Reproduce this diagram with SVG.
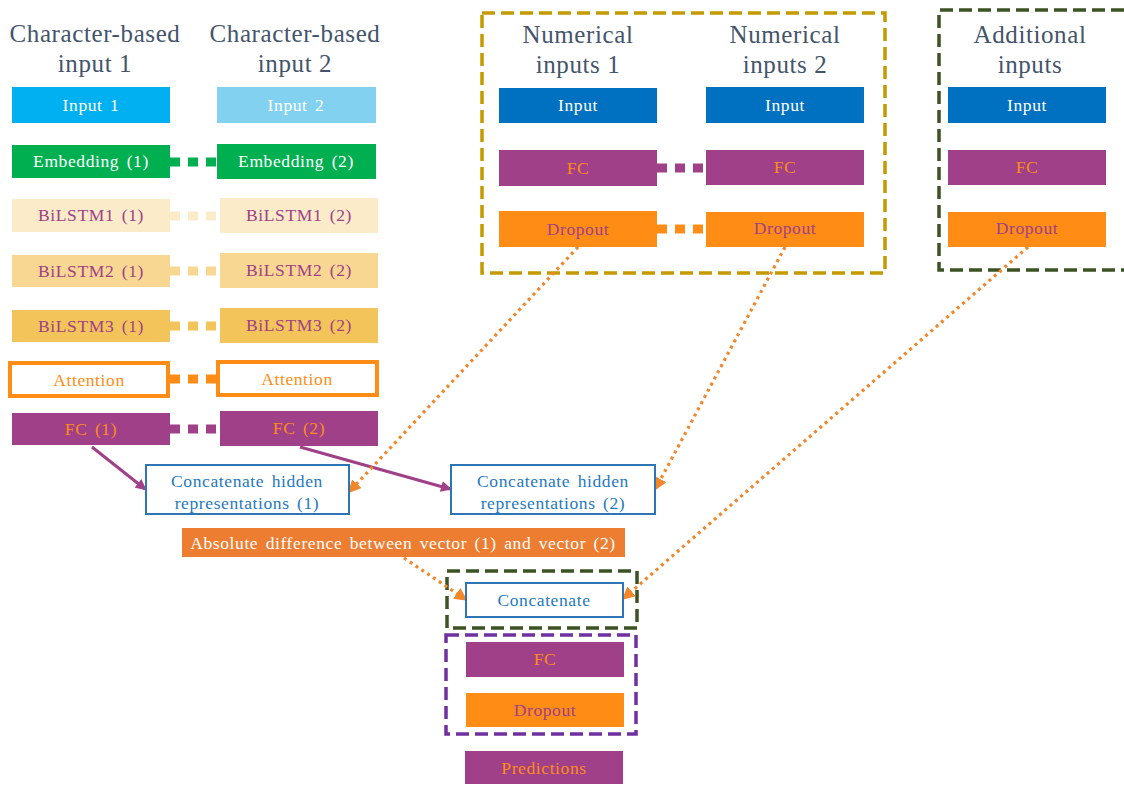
<svg xmlns="http://www.w3.org/2000/svg" width="1124" height="785" viewBox="0 0 1124 785" font-family="Liberation Serif, DejaVu Serif, serif">
<defs>
<style>
text{font-family:"Liberation Serif","DejaVu Serif",serif;text-anchor:middle}
.hd{font-size:25px;fill:#44546A;letter-spacing:0.6px}
.t{font-size:17.5px;letter-spacing:0.6px;word-spacing:2.5px}
.w{fill:#FFFFFF}
.p{fill:#A04088}
.o{fill:#FF8C14}
.b{fill:#1F78C1}
.dot{stroke-width:9;stroke-dasharray:10 8;fill:none}
.grp{fill:none;stroke-width:3.5;stroke-dasharray:13 6}
</style>
<marker id="ap" markerWidth="11" markerHeight="11" refX="9" refY="5.5" orient="auto" markerUnits="userSpaceOnUse" viewBox="0 0 11 11"><path d="M0,0 L11,5.5 L0,11 Z" fill="#A04088"/></marker>
<marker id="ao" markerWidth="13" markerHeight="13" refX="10" refY="6.5" orient="auto" markerUnits="userSpaceOnUse" viewBox="0 0 13 13"><path d="M0,0 L13,6.5 L0,13 Z" fill="#F4862A"/></marker>
</defs>
<rect width="1124" height="785" fill="#FFFFFF"/>

<!-- group frames -->
<rect x="482" y="13" width="403" height="260" class="grp" stroke="#C49A00"/>
<path d="M1124,10 L939,10 L939,270 L1124,270" class="grp" stroke="#3B5323"/>
<rect x="447" y="571" width="190" height="57" class="grp" stroke="#3B5323"/>
<rect x="446" y="635" width="190" height="99" class="grp" stroke="#7030A0"/>

<!-- headers -->
<g id="headers">
<text class="hd" x="95" y="42">Character-based</text><text class="hd" x="95" y="72">input 1</text>
<text class="hd" x="295" y="42">Character-based</text><text class="hd" x="295" y="72">input 2</text>
<text class="hd" x="578" y="43">Numerical</text><text class="hd" x="578" y="73">inputs 1</text>
<text class="hd" x="785" y="43">Numerical</text><text class="hd" x="785" y="73">inputs 2</text>
<text class="hd" x="1030" y="43">Additional</text><text class="hd" x="1030" y="73">inputs</text>
</g>

<!-- connectors -->
<g id="connectors">
<line x1="170" y1="162" x2="217" y2="162" class="dot" stroke="#00B050"/>
<line x1="170" y1="216" x2="220" y2="216" class="dot" stroke="#FBEBC8"/>
<line x1="170" y1="271" x2="220" y2="271" class="dot" stroke="#F7D792"/>
<line x1="170" y1="326" x2="220" y2="326" class="dot" stroke="#F2C45A"/>
<line x1="170" y1="379" x2="216" y2="379" class="dot" stroke="#FF8C14"/>
<line x1="170" y1="429" x2="220" y2="429" class="dot" stroke="#A04088"/>
<line x1="657" y1="168" x2="706" y2="168" class="dot" stroke="#A04088"/>
<line x1="657" y1="229" x2="706" y2="229" class="dot" stroke="#FF8C14"/>
<line x1="92" y1="447" x2="145" y2="489" stroke="#A04088" stroke-width="3" marker-end="url(#ap)"/>
<line x1="300" y1="447" x2="450" y2="489" stroke="#A04088" stroke-width="3" marker-end="url(#ap)"/>
<line x1="578" y1="247" x2="350" y2="491" stroke="#F4862A" stroke-width="3.2" stroke-dasharray="3 4" marker-end="url(#ao)"/>
<line x1="785" y1="247" x2="656" y2="488" stroke="#F4862A" stroke-width="3.2" stroke-dasharray="3 4" marker-end="url(#ao)"/>
<line x1="1028" y1="247" x2="624" y2="598" stroke="#F4862A" stroke-width="3.2" stroke-dasharray="3 4" marker-end="url(#ao)"/>
<line x1="404" y1="558" x2="465" y2="599" stroke="#F4862A" stroke-width="3.2" stroke-dasharray="3 4" marker-end="url(#ao)"/>
</g>

<!-- character-based column 1 -->
<g id="input1"><rect x="12" y="87" width="158" height="36" fill="#00B0F0"/><text class="t w" x="91" y="111">Input  1</text></g>
<g id="embedding1"><rect x="12" y="145" width="158" height="33" fill="#00B050"/><text class="t w" x="91" y="167">Embedding (1)</text></g>
<g id="bilstm1-1"><rect x="12" y="199" width="158" height="33" fill="#FBEBC8"/><text class="t p" x="91" y="221">BiLSTM1 (1)</text></g>
<g id="bilstm2-1"><rect x="12" y="255" width="158" height="32" fill="#F7D792"/><text class="t p" x="91" y="277">BiLSTM2 (1)</text></g>
<g id="bilstm3-1"><rect x="12" y="310" width="158" height="32" fill="#F2C45A"/><text class="t p" x="91" y="332">BiLSTM3 (1)</text></g>
<g id="attention1"><rect x="10" y="363" width="158" height="33" fill="#FFFFFF" stroke="#FF8C14" stroke-width="4"/><text class="t o" x="89" y="386">Attention</text></g>
<g id="fc1"><rect x="12" y="413" width="158" height="32" fill="#A04088"/><text class="t o" x="91" y="435">FC (1)</text></g>

<!-- character-based column 2 -->
<g id="input2"><rect x="217" y="87" width="159" height="36" fill="#82D1F1"/><text class="t w" x="296" y="111">Input  2</text></g>
<g id="embedding2"><rect x="217" y="144" width="159" height="35" fill="#00B050"/><text class="t w" x="296" y="167">Embedding (2)</text></g>
<g id="bilstm1-2"><rect x="220" y="198" width="158" height="35" fill="#FBEBC8"/><text class="t p" x="299" y="221">BiLSTM1 (2)</text></g>
<g id="bilstm2-2"><rect x="220" y="253" width="158" height="35" fill="#F7D792"/><text class="t p" x="299" y="276">BiLSTM2 (2)</text></g>
<g id="bilstm3-2"><rect x="220" y="308" width="158" height="35" fill="#F2C45A"/><text class="t p" x="299" y="331">BiLSTM3 (2)</text></g>
<g id="attention2"><rect x="218" y="362" width="159" height="33" fill="#FFFFFF" stroke="#FF8C14" stroke-width="4"/><text class="t o" x="297" y="385">Attention</text></g>
<g id="fc2"><rect x="220" y="411" width="158" height="35" fill="#A04088"/><text class="t o" x="299" y="434">FC (2)</text></g>

<!-- numerical 1 -->
<g id="num1-input"><rect x="499" y="88" width="158" height="35" fill="#0070C0"/><text class="t w" x="578" y="111">Input</text></g>
<g id="num1-fc"><rect x="499" y="150" width="158" height="36" fill="#A04088"/><text class="t o" x="578" y="174">FC</text></g>
<g id="num1-dropout"><rect x="499" y="211" width="158" height="36" fill="#FF8C14"/><text class="t p" x="578" y="235">Dropout</text></g>

<!-- numerical 2 -->
<g id="num2-input"><rect x="706" y="87" width="158" height="36" fill="#0070C0"/><text class="t w" x="785" y="111">Input</text></g>
<g id="num2-fc"><rect x="706" y="150" width="158" height="35" fill="#A04088"/><text class="t o" x="785" y="173">FC</text></g>
<g id="num2-dropout"><rect x="706" y="212" width="158" height="35" fill="#FF8C14"/><text class="t p" x="785" y="234">Dropout</text></g>

<!-- additional -->
<g id="add-input"><rect x="948" y="87" width="158" height="36" fill="#0070C0"/><text class="t w" x="1027" y="111">Input</text></g>
<g id="add-fc"><rect x="948" y="150" width="158" height="35" fill="#A04088"/><text class="t o" x="1027" y="173">FC</text></g>
<g id="add-dropout"><rect x="948" y="212" width="158" height="35" fill="#FF8C14"/><text class="t p" x="1027" y="234">Dropout</text></g>

<!-- merging -->
<g id="concat-hidden1"><rect x="146" y="465" width="203" height="49" fill="#FFFFFF" stroke="#2E75B6" stroke-width="2"/><text class="t b" x="247" y="487">Concatenate hidden</text><text class="t b" x="247" y="509">representations (1)</text></g>
<g id="concat-hidden2"><rect x="451" y="465" width="204" height="49" fill="#FFFFFF" stroke="#2E75B6" stroke-width="2"/><text class="t b" x="553" y="487">Concatenate hidden</text><text class="t b" x="553" y="509">representations (2)</text></g>
<g id="absdiff"><rect x="182" y="528" width="443" height="29" fill="#ED7D31"/><text class="t w" x="403" y="549">Absolute difference between vector (1) and vector (2)</text></g>
<g id="concatenate"><rect x="466" y="583" width="157" height="34" fill="#FFFFFF" stroke="#2E75B6" stroke-width="2"/><text class="t b" x="544" y="606">Concatenate</text></g>
<g id="final-fc"><rect x="466" y="642" width="158" height="35" fill="#A04088"/><text class="t o" x="545" y="665">FC</text></g>
<g id="final-dropout"><rect x="466" y="693" width="158" height="34" fill="#FF8C14"/><text class="t p" x="545" y="716">Dropout</text></g>
<g id="predictions"><rect x="465" y="751" width="158" height="33" fill="#A04088"/><text class="t o" x="544" y="774">Predictions</text></g>
</svg>
